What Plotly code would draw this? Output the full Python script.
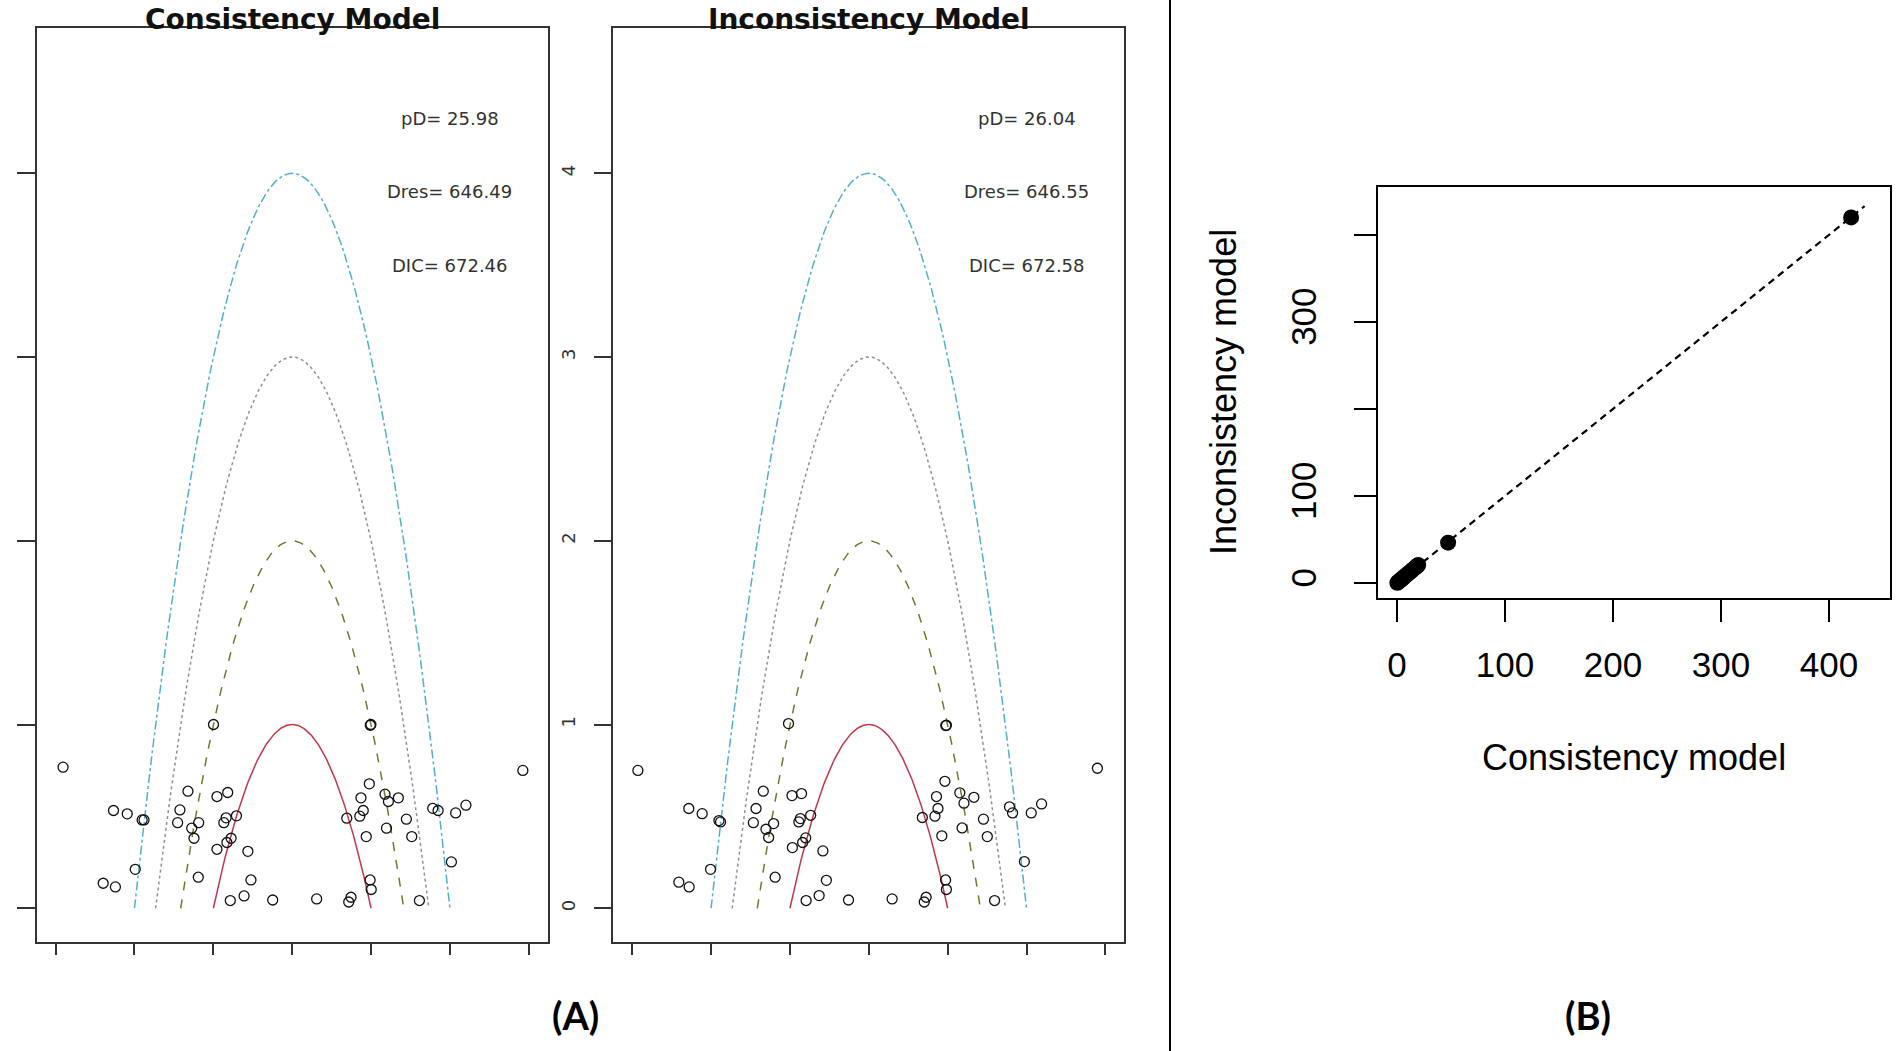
import numpy as np
import plotly.graph_objects as go

W, H = 1901, 1051

# (A) leverage plots: x = sign(r)*sqrt(deviance), y = leverage
cons_x = [-2.906, 2.925, -0.998, 0.998, 0.990, -2.266, -2.092, -1.903, -1.879,
          -1.322, -1.424, -1.453, -1.186, -1.274, -1.245, -0.954, -0.818, -0.838,
          -0.707, -0.867, -0.775, -0.828, -0.954, -0.562, -1.990, -2.397, -2.242,
          -1.191, -0.523, -0.610, -0.785, -0.247, 0.310, 0.746, 0.717, 0.978,
          0.872, 1.177, 1.346, 1.220, 0.901, 0.857, 0.692, 1.196, 1.448, 0.939,
          1.516, 1.782, 1.850, 2.073, 2.203, 2.019, 0.988, 1.002, 1.613]
cons_y = [0.768, 0.750, 1.000, 1.000, 0.996, 0.532, 0.514, 0.481, 0.481,
          0.637, 0.535, 0.466, 0.466, 0.436, 0.381, 0.608, 0.630, 0.492,
          0.503, 0.466, 0.381, 0.358, 0.321, 0.310, 0.212, 0.136, 0.116,
          0.169, 0.154, 0.067, 0.042, 0.045, 0.051, 0.060, 0.034, 0.677,
          0.601, 0.621, 0.601, 0.581, 0.532, 0.501, 0.490, 0.436, 0.485, 0.390,
          0.390, 0.544, 0.532, 0.519, 0.561, 0.252, 0.154, 0.102, 0.042]

incons_x = [-2.928, 2.899, -1.018, 0.984, 0.976, -2.283, -2.113, -1.900, -1.880,
            -1.338, -1.430, -1.464, -1.207, -1.304, -1.270, -0.974, -0.853, -0.868,
            -0.737, -0.887, -0.800, -0.839, -0.969, -0.582, -2.007, -2.409, -2.278,
            -1.188, -0.538, -0.630, -0.795, -0.257, 0.296, 0.727, 0.703, 0.965,
            0.858, 1.154, 1.333, 1.207, 0.877, 0.839, 0.679, 1.183, 1.454, 0.926,
            1.503, 1.784, 1.823, 2.060, 2.191, 1.973, 0.974, 0.984, 1.595]
incons_y = [0.750, 0.762, 1.005, 0.996, 0.994, 0.543, 0.515, 0.477, 0.470,
            0.637, 0.543, 0.466, 0.461, 0.430, 0.385, 0.613, 0.624, 0.488,
            0.506, 0.470, 0.383, 0.358, 0.330, 0.312, 0.212, 0.142, 0.116,
            0.169, 0.152, 0.069, 0.042, 0.045, 0.051, 0.060, 0.034, 0.691,
            0.608, 0.628, 0.604, 0.572, 0.543, 0.501, 0.494, 0.437, 0.485, 0.394,
            0.390, 0.552, 0.519, 0.519, 0.568, 0.254, 0.154, 0.102, 0.042]

cons_stats = ["pD= 25.98", "Dres= 646.49", "DIC= 672.46"]
incons_stats = ["pD= 26.04", "Dres= 646.55", "DIC= 672.58"]
stat_pos_x = 2
stat_pos_y = [4.3, 3.9, 3.5]

contour_levels = [1, 2, 3, 4]
contour_colors = ["#c0394b", "#76772c", "#8e8ea0", "#52b0cc"]
contour_dash = ["solid", "dash", "dot", "dashdot"]
lev_ticks = [0, 1, 2, 3, 4]
dev_ticks = [-3, -2, -1, 0, 1, 2, 3]

# (B) residual deviance per data point, consistency vs inconsistency model
dev_cons = [0.3, 1.2, 2.5, 3.6, 4.8, 6.0, 7.4, 8.9, 10.5, 12.0, 13.6, 15.2, 16.8, 18.3, 19.6, 47.3, 420.5]
dev_incons = [0.2, 1.4, 2.7, 3.8, 5.1, 6.3, 7.9, 9.4, 11.0, 12.6, 14.3, 15.9, 17.6, 19.2, 20.7, 46.4, 420.0]
identity_span = [-2, 433]
b_ticks = [0, 100, 200, 300, 400]
b_xlabels = ["0", "100", "200", "300", "400"]
b_ylabels = ["0", "100", "", "300", ""]


def px_x(p):
    return p / W


def px_y(p):
    return 1 - p / H


fig = go.Figure()

panels = [("x", "y", cons_x, cons_y), ("x2", "y2", incons_x, incons_y)]
for xa, ya, xs_pts, ys_pts in panels:
    for lev, col, dash in zip(contour_levels, contour_colors, contour_dash):
        xs = np.linspace(-np.sqrt(lev), np.sqrt(lev), 161)
        fig.add_trace(go.Scatter(
            x=xs, y=lev - xs ** 2, mode="lines", xaxis=xa, yaxis=ya,
            line=dict(color=col, width=1.5, dash=dash),
            hoverinfo="skip", showlegend=False
        ))
    fig.add_trace(go.Scatter(
        x=xs_pts, y=ys_pts, mode="markers", xaxis=xa, yaxis=ya,
        marker=dict(symbol="circle-open", size=10, color="#111",
                    line=dict(width=1.3, color="#111")),
        showlegend=False
    ))

fig.add_trace(go.Scatter(
    x=identity_span, y=identity_span, mode="lines", xaxis="x3", yaxis="y3",
    line=dict(color="black", width=2.2, dash="7px,5px"),
    hoverinfo="skip", showlegend=False
))
fig.add_trace(go.Scatter(
    x=dev_cons, y=dev_incons, mode="markers", xaxis="x3", yaxis="y3",
    marker=dict(size=16, color="black"), showlegend=False
))

frame = dict(showline=True, mirror=True, linecolor="#333", linewidth=2,
             showgrid=False, zeroline=False, ticks="outside",
             tickcolor="#333", tickwidth=2)

a_xrange = [-3.24, 3.24]
a_yrange = [-0.182, 4.789]
a_ydom = [px_y(941.7), px_y(28.3)]

fig.update_layout(
    width=W, height=H,
    margin=dict(l=0, r=0, t=0, b=0),
    paper_bgcolor="white", plot_bgcolor="white",
    font=dict(family="Liberation Sans, Arial", color="#222"),
    xaxis=dict(frame, domain=[px_x(36.7), px_x(547.7)], range=a_xrange,
               tickvals=dev_ticks, showticklabels=False, ticklen=11, anchor="y"),
    yaxis=dict(frame, domain=a_ydom, range=a_yrange, tickvals=lev_ticks,
               showticklabels=False, ticklen=18, anchor="x"),
    xaxis2=dict(frame, domain=[px_x(613.3), px_x(1124.3)], range=a_xrange,
                tickvals=dev_ticks, showticklabels=False, ticklen=11, anchor="y2"),
    yaxis2=dict(frame, domain=a_ydom, range=a_yrange, tickvals=lev_ticks,
                ticklen=17, anchor="x2", tickangle=-90,
                tickfont=dict(size=18, family="DejaVu Sans", color="#333"),
                ticklabelstandoff=12),
    xaxis3=dict(frame, domain=[px_x(1378), px_x(1890)], range=[-17.6, 456.5],
                tickvals=b_ticks, ticktext=b_xlabels, ticklen=22, anchor="y3",
                linecolor="black", tickcolor="black",
                tickfont=dict(size=35, color="black"), ticklabelstandoff=13),
    yaxis3=dict(frame, domain=[px_y(598), px_y(187)], range=[-17.2, 455],
                tickvals=b_ticks, ticktext=b_ylabels, ticklen=22, anchor="x3",
                linecolor="black", tickcolor="black", tickangle=-90,
                tickfont=dict(size=35, color="black"), ticklabelstandoff=24),
)


def note(px, py, text, **kw):
    fig.add_annotation(x=px_x(px), y=px_y(py), xref="paper", yref="paper",
                       xanchor="center", yanchor="middle", text=text,
                       showarrow=False, **kw)


# panel titles and fit statistics
for xa, ya, title, stats, cx in [("x", "y", "Consistency Model", cons_stats, 292),
                                 ("x2", "y2", "Inconsistency Model", incons_stats, 869)]:
    note(cx, 20, "<b>" + title + "</b>",
         font=dict(family="DejaVu Sans", size=28, color="#111"))
    for txt, sy in zip(stats, stat_pos_y):
        fig.add_annotation(x=stat_pos_x, y=sy, xref=xa, yref=ya, text=txt,
                           xanchor="center", yanchor="middle", showarrow=False,
                           font=dict(family="DejaVu Sans", size=18, color="#333"))

# axis titles of (B)
note(1634, 757, "Consistency model", font=dict(size=36, color="black"))
note(1223, 392, "Inconsistency model", textangle=-90,
     font=dict(size=36, color="black"))

# panel letters
note(575, 1015, "<b>(A)</b>", font=dict(family="Lato", size=38, color="black"))
note(1588, 1015, "<b>(B)</b>", font=dict(family="Lato", size=38, color="black"))

# divider between (A) and (B)
fig.add_shape(type="line", xref="paper", yref="paper",
              x0=px_x(1170), x1=px_x(1170), y0=0, y1=1,
              line=dict(color="black", width=2))

fig.write_html("out.html", config={"displayModeBar": False},
               post_script="document.body.style.margin='0';")
